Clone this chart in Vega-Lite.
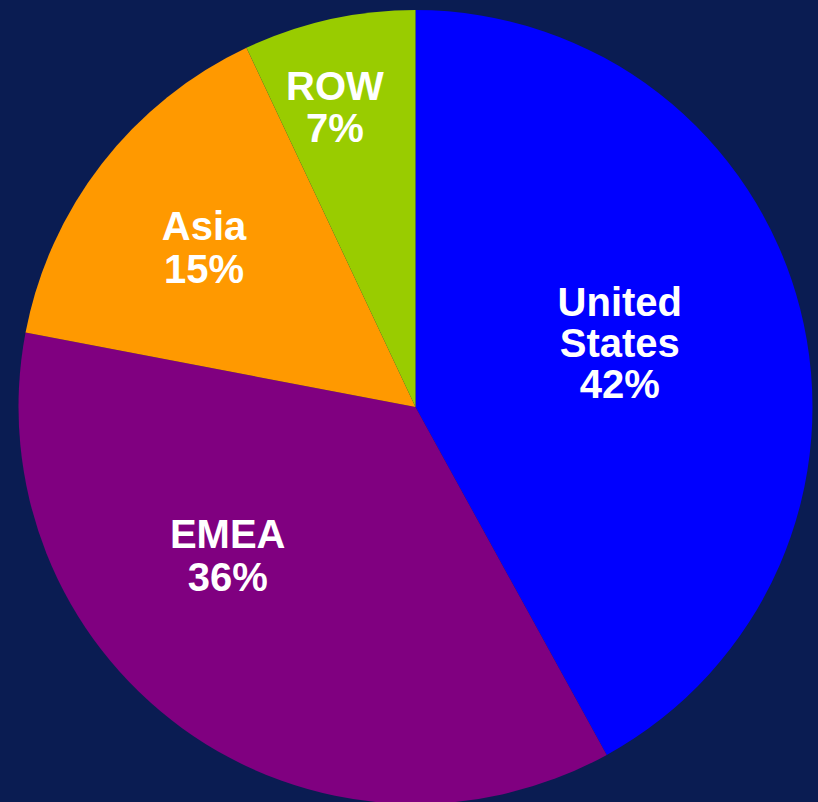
{
  "$schema": "https://vega.github.io/schema/vega-lite/v6.json",
  "width": 818,
  "height": 802,
  "autosize": {"type": "fit", "contains": "padding"},
  "padding": {"left": 13, "top": 12, "right": 0, "bottom": 0},
  "background": "#0a1c52",
  "config": {"view": {"stroke": null}},
  "data": {
    "values": [
      {"region": "United States", "share": 42, "rank": 1, "label": "United\nStates\n42%"},
      {"region": "EMEA", "share": 36, "rank": 2, "label": "EMEA\n36%"},
      {"region": "Asia", "share": 15, "rank": 3, "label": "Asia\n15%"},
      {"region": "ROW", "share": 7, "rank": 4, "label": "ROW\n7%"}
    ]
  },
  "encoding": {
    "theta": {"field": "share", "type": "quantitative", "stack": true},
    "order": {"field": "rank", "type": "quantitative"}
  },
  "layer": [
    {
      "mark": {"type": "arc", "outerRadius": 397},
      "encoding": {
        "color": {
          "field": "region",
          "type": "nominal",
          "scale": {
            "domain": ["United States", "EMEA", "Asia", "ROW"],
            "range": ["#0000ff", "#800080", "#ff9900", "#99cc00"]
          },
          "legend": null
        }
      }
    },
    {
      "mark": {"type": "text", "radius": 214, "dx": -3, "dy": -38, "font": "Liberation Sans", "fontWeight": "bold", "fontSize": 40, "lineHeight": 41, "lineBreak": "\n", "color": "white", "align": "center", "baseline": "alphabetic"},
      "encoding": {"text": {"condition": {"test": "datum.region === 'United States'", "field": "label"}, "value": ""}}
    },
    {
      "mark": {"type": "text", "radius": 231, "dx": -52, "dy": -45.5, "font": "Liberation Sans", "fontWeight": "bold", "fontSize": 40, "lineHeight": 43, "lineBreak": "\n", "color": "white", "align": "center", "baseline": "alphabetic"},
      "encoding": {"text": {"condition": {"test": "datum.region === 'EMEA'", "field": "label"}, "value": ""}}
    },
    {
      "mark": {"type": "text", "radius": 265, "dx": -2, "dy": -4.5, "font": "Liberation Sans", "fontWeight": "bold", "fontSize": 40, "lineHeight": 43, "lineBreak": "\n", "color": "white", "align": "center", "baseline": "alphabetic"},
      "encoding": {"text": {"condition": {"test": "datum.region === 'Asia'", "field": "label"}, "value": ""}}
    },
    {
      "mark": {"type": "text", "radius": 310, "dx": -13, "dy": -4.5, "font": "Liberation Sans", "fontWeight": "bold", "fontSize": 40, "lineHeight": 42, "lineBreak": "\n", "color": "white", "align": "center", "baseline": "alphabetic"},
      "encoding": {"text": {"condition": {"test": "datum.region === 'ROW'", "field": "label"}, "value": ""}}
    }
  ]
}
